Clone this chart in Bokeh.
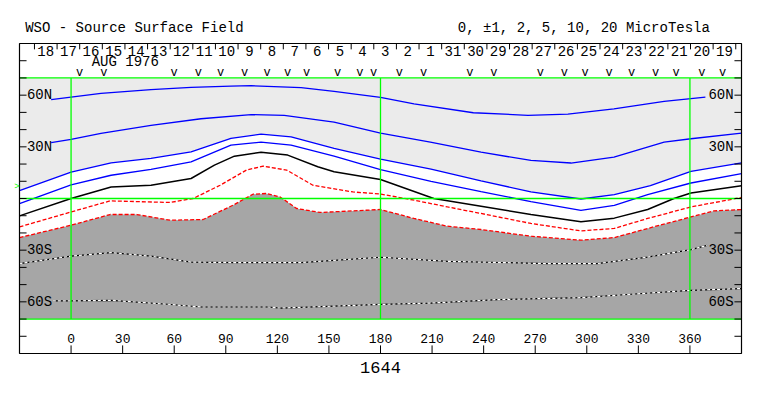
from bokeh.plotting import figure
from bokeh.models import Range1d
from bokeh.core.properties import value
from bokeh.embed import file_html
from bokeh.resources import INLINE

# ---- contour data (Carrington longitude, latitude) ----
# +10 uT
c10_lon = [-11.6, 0, 17.4, 46.5, 69.8, 93, 104.7, 133.8, 153, 180, 199.5, 234, 265.8, 289, 315.8, 345, 360.6, 369]
c10_lat = [57.4, 58.9, 61.0, 63.2, 64.5, 65.3, 65.5, 64.4, 62.2, 58.7, 55.0, 49.8, 48.3, 49.0, 52.1, 56.4, 58.0, 58.9]
# +5 uT
c5_lon = [-11.6, 0, 17.4, 46.5, 75.6, 104.7, 124, 153, 180, 209, 238.5, 267.5, 290.8, 315.8, 345, 360.6, 390]
c5_lat = [32.4, 34.3, 37.8, 42.4, 46.3, 48.7, 48.3, 44.4, 38.0, 32.7, 26.9, 22.1, 20.6, 24.0, 32.7, 34.7, 38.0]
# +2 uT (edge of light shading)
c2_lon = [-30, 0, 23.3, 46.5, 69.8, 93, 110.5, 128, 153, 180, 209.4, 238.5, 267.5, 296.6, 316, 337, 360.6, 390]
c2_lat = [4.6, 15.3, 20.7, 23.3, 27.1, 34.9, 37.4, 35.8, 29.1, 22.8, 17.0, 10.3, 3.8, -0.3, 2.3, 7.5, 15.8, 20.7]
# +1 uT
c1_lon = [-30, 0, 23.3, 46.5, 69.8, 93, 110.5, 128, 153, 180, 209.4, 238.5, 267.5, 296.6, 316, 335.4, 360.6, 390]
c1_lat = [-3.0, 7.9, 13.5, 16.9, 21.3, 31.0, 32.7, 31.0, 24.6, 16.8, 10.0, 4.0, -1.8, -6.9, -4.0, 2.3, 9.0, 14.5]
# 0 (neutral line)
c0_lon = [-30, 0, 23.3, 46.5, 69.8, 83.4, 95, 110.5, 126, 143.5, 153, 180, 211, 238.5, 267.5, 296.6, 316, 335.4, 350.7, 360.6, 390]
c0_lat = [-10.1, 0.0, 6.7, 7.7, 11.6, 19.4, 24.6, 26.9, 25.2, 18.4, 15.5, 11.0, 0.0, -4.5, -9.3, -13.5, -11.4, -6.4, 0.0, 3.2, 7.4]
# -1 uT
m1_lon = [-30, 0, 22.7, 57.6, 71, 86.7, 102, 111.7, 125.4, 140.7, 164, 180, 199.7, 219, 238.5, 267.5, 296.6, 316, 335.4, 360.6, 390]
m1_lat = [-16.5, -7.8, -1.4, -2.3, 0.0, 7.7, 16.5, 18.8, 16.5, 7.7, 3.8, 2.6, -1.0, -4.9, -8.7, -14.5, -18.8, -17.4, -11.6, -4.9, 0.6]
# -2 uT (edge of dark shading)
m2_lon = [-30, 0, 22.7, 38.2, 57.6, 76.8, 94.2, 105.8, 113.6, 121.6, 131.2, 144.8, 164, 180, 199.5, 219, 238.5, 267.5, 296.6, 316, 335.4, 360.6, 374, 390]
m2_lat = [-22.7, -15.5, -9.3, -9.3, -12.6, -12.2, -3.9, 2.5, 2.9, 0.9, -5.8, -8.1, -7.2, -6.4, -11.6, -16.1, -18.0, -21.9, -24.2, -22.7, -17.4, -10.7, -7.2, -6.4]
# -5 uT
m5_lon = [-30, 0, 23.3, 46.5, 69.8, 95, 133.8, 153, 180, 219, 277, 306, 335.4, 360.6, 370]
m5_lat = [-37.8, -33.5, -31.4, -33.5, -36.9, -37.2, -37.2, -35.9, -34.1, -36.5, -37.8, -37.8, -34.0, -29.7, -27.2]
# -10 uT
m10_lon = [-10.6, 0, 23.3, 56.2, 75.6, 114.4, 122, 153, 180, 209.4, 248, 296.6, 325.7, 360.6, 390]
m10_lat = [-59.5, -59.5, -59.1, -61.4, -63.0, -63.0, -63.6, -62.5, -61.5, -60.7, -58.7, -57.6, -55.6, -53.3, -52.3]

# ---- axes / annotations ----
lon_ticks = [0, 30, 60, 90, 120, 150, 180, 210, 240, 270, 300, 330, 360]
lat_ticks = [-80, -70, -60, -50, -40, -30, -20, -10, 0, 10, 20, 30, 40, 50, 60, 70, 80]
lat_label_vals = [60, 30, -30, -60]
lat_label_txt = ["60N", "30N", "30S", "60S"]
day_labels = ["18", "17", "16", "15", "14", "13", "12", "11", "10", "9", "8", "7", "6", "5", "4", "3", "2", "1",
              "31", "30", "29", "28", "27", "26", "25", "24", "23", "22", "21", "20", "19"]
day_first_boundary = -21.3   # longitude of first day boundary
deg_per_day = 13.16
obs_lon = [5, 19, 60, 74, 87, 101, 114, 126, 137, 155, 168, 176, 191, 205, 232, 246, 273, 287, 299, 313, 326, 340, 352, 367, 379]
meridians = [0, 180, 360]
band_lats = [-70, 0, 70]
b0_lat = 6.9
rotation = "1644"
month_txt = "AUG 1976"
title_left = "WSO - Source Surface Field"
title_right = "0, \u00b11, 2, 5, 10, 20 MicroTesla"

FONT = value("Liberation Mono")
LIGHT = "#EBEBEB"
DARK = "#A6A6A6"
GREEN = "#00FF00"

# map box: longitude -30..390, latitude -90..90
xmin, xmax, ymin, ymax = -30, 390, -90, 90
W, H = 760, 392
px_x = 722 / (xmax - xmin)
px_y = 310 / (ymax - ymin)
x_start = xmin - 19 / px_x
y_end = ymax + 43 / px_y

p = figure(width=W, height=H,
           x_range=Range1d(x_start, x_start + W / px_x),
           y_range=Range1d(y_end - H / px_y, y_end),
           output_backend="svg", toolbar_location=None,
           x_axis_location=None, y_axis_location=None,
           min_border=0)
p.xgrid.visible = False
p.ygrid.visible = False
p.outline_line_color = None
p.background_fill_color = "white"
p.border_fill_color = "white"

# shading
p.varea(x=c2_lon, y1=c2_lat, y2=band_lats[2], fill_color=LIGHT)
p.varea(x=m2_lon, y1=band_lats[0], y2=m2_lat, fill_color=DARK)

# contours
for lx, ly in [(c10_lon, c10_lat), (c5_lon, c5_lat), (c2_lon, c2_lat), (c1_lon, c1_lat)]:
    p.line(lx, ly, line_color="#0000FF", line_width=1.3)
p.line(c0_lon, c0_lat, line_color="black", line_width=1.5)
for lx, ly in [(m1_lon, m1_lat), (m2_lon, m2_lat)]:
    p.line(lx, ly, line_color="#FF0000", line_width=1.3, line_dash="4 2")
for lx, ly in [(m5_lon, m5_lat), (m10_lon, m10_lat)]:
    p.line(lx, ly, line_color="black", line_width=1.2)
    p.line(lx, ly, line_color="white", line_width=1.2, line_dash="3 2")

# green reference lines
p.segment(x0=meridians, y0=[band_lats[0]] * len(meridians), x1=meridians, y1=[band_lats[2]] * len(meridians),
          line_color=GREEN, line_width=1.3)
p.segment(x0=[xmin] * len(band_lats), y0=band_lats, x1=[xmax] * len(band_lats), y1=band_lats,
          line_color=GREEN, line_width=1.3)

# box
p.quad(left=[xmin], right=[xmax], bottom=[ymin], top=[ymax], fill_color=None,
       line_color="black", line_width=1.2)

# ticks
ytl = 4.1
p.segment(x0=[xmin] * len(lat_ticks), y0=lat_ticks, x1=[xmin + ytl] * len(lat_ticks), y1=lat_ticks,
          line_color="black", line_width=1)
p.segment(x0=[xmax - ytl] * len(lat_ticks), y0=lat_ticks, x1=[xmax] * len(lat_ticks), y1=lat_ticks,
          line_color="black", line_width=1)
p.segment(x0=lon_ticks, y0=[ymin] * len(lon_ticks), x1=lon_ticks, y1=[ymin + 4.7] * len(lon_ticks),
          line_color="black", line_width=1)
day_bounds = [day_first_boundary + deg_per_day * k for k in range(len(day_labels) + 1)]
day_centres = [day_first_boundary + deg_per_day * (k + 0.5) for k in range(len(day_labels))]
p.segment(x0=day_bounds, y0=[ymax] * len(day_bounds), x1=day_bounds, y1=[ymax - 3.4] * len(day_bounds),
          line_color="black", line_width=1)

# texts
p.text(x=day_centres, y=[85.9] * len(day_centres), text=day_labels, text_font=FONT, text_font_size="14px",
       text_align="center", text_baseline="middle", text_color="black")
p.text(x=[12.0], y=[79.1], text=[month_txt], text_font=FONT, text_font_size="14px",
       text_align="left", text_baseline="middle", text_color="black")
p.text(x=obs_lon, y=[72.8] * len(obs_lon), text=["v"] * len(obs_lon), text_font=FONT, text_font_size="12px",
       text_align="center", text_baseline="middle", text_color="black")
p.text(x=lon_ticks, y=[-81.2] * len(lon_ticks), text=[str(t) for t in lon_ticks], text_font=FONT,
       text_font_size="13px", text_align="center", text_baseline="middle", text_color="black")
p.text(x=[xmin + 4.3] * 4, y=lat_label_vals, text=lat_label_txt, text_font=FONT, text_font_size="14px",
       text_align="left", text_baseline="middle", text_color="black")
p.text(x=[xmax - 4.6] * 4, y=lat_label_vals, text=lat_label_txt, text_font=FONT, text_font_size="14px",
       text_align="right", text_baseline="middle", text_color="black")
p.text(x=[-26.7], y=[99.2], text=[title_left], text_font=FONT, text_font_size="14px",
       text_align="left", text_baseline="middle", text_color="black")
p.text(x=[225.0], y=[99.2], text=[title_right], text_font=FONT, text_font_size="14px",
       text_align="left", text_baseline="middle", text_color="black")
p.text(x=[180], y=[-98.3], text=[rotation], text_font=FONT, text_font_size="17px",
       text_align="center", text_baseline="middle", text_color="black")
p.text(x=[-31.5], y=[b0_lat], text=[">"], text_font=FONT, text_font_size="9px",
       text_align="center", text_baseline="middle", text_color=GREEN)

open("out.html", "w").write(file_html(p, INLINE))
